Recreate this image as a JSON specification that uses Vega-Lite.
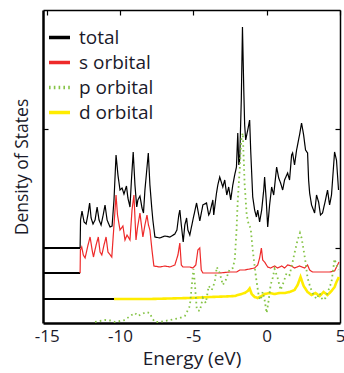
{
"$schema": "https://vega.github.io/schema/vega-lite/v6.json",
"width": 297, "height": 313,
"autosize": {"type": "none"},
"padding": {"left": 43, "top": 10, "right": 4, "bottom": 50},
"config": {
  "view": {"stroke": null},
  "font": "Open Sans",
  "axis": {"grid": false, "domainColor": "black", "tickColor": "black", "labelColor": "#1a1a2a", "titleColor": "#1a1a2a", "titleFontWeight": "normal"},
  "legend": {"orient": "none", "legendX": 4, "legendY": 15, "title": null, "symbolType": "stroke", "symbolSize": 441, "labelFontSize": 19, "labelColor": "#1a1a2a", "labelOffset": 7, "rowPadding": 2, "padding": 0}
},
"datasets": {
"base": [
 {"x0": -15.25, "x1": -12.72, "y": 7.5},
 {"x0": -15.25, "x1": -12.72, "y": 5.0},
 {"x0": -15.25, "x1": -10.41, "y": 2.4}
],
"curves": [
 {"series":"total","energy":-12.72,"dos":7.5},
 {"series":"total","energy":-12.69,"dos":10.3},
 {"series":"total","energy":-12.59,"dos":11.2},
 {"series":"total","energy":-12.45,"dos":10.1},
 {"series":"total","energy":-12.31,"dos":9.9},
 {"series":"total","energy":-12.18,"dos":10.9},
 {"series":"total","energy":-12.07,"dos":12.0},
 {"series":"total","energy":-11.97,"dos":10.5},
 {"series":"total","energy":-11.84,"dos":9.9},
 {"series":"total","energy":-11.70,"dos":10.3},
 {"series":"total","energy":-11.56,"dos":11.6},
 {"series":"total","energy":-11.43,"dos":10.3},
 {"series":"total","energy":-11.29,"dos":9.8},
 {"series":"total","energy":-11.16,"dos":10.7},
 {"series":"total","energy":-11.02,"dos":11.8},
 {"series":"total","energy":-10.88,"dos":10.3},
 {"series":"total","energy":-10.68,"dos":9.6},
 {"series":"total","energy":-10.54,"dos":9.7},
 {"series":"total","energy":-10.41,"dos":12.3},
 {"series":"total","energy":-10.27,"dos":16.8},
 {"series":"total","energy":-10.14,"dos":14.8},
 {"series":"total","energy":-10.00,"dos":13.3},
 {"series":"total","energy":-9.86,"dos":13.5},
 {"series":"total","energy":-9.73,"dos":12.9},
 {"series":"total","energy":-9.56,"dos":13.7},
 {"series":"total","energy":-9.46,"dos":12.5},
 {"series":"total","energy":-9.32,"dos":11.6},
 {"series":"total","energy":-9.22,"dos":14.3},
 {"series":"total","energy":-9.10,"dos":17.1},
 {"series":"total","energy":-8.98,"dos":13.8},
 {"series":"total","energy":-8.86,"dos":11.6},
 {"series":"total","energy":-8.78,"dos":12.3},
 {"series":"total","energy":-8.64,"dos":12.7},
 {"series":"total","energy":-8.50,"dos":11.5},
 {"series":"total","energy":-8.40,"dos":11.0},
 {"series":"total","energy":-8.30,"dos":13.3},
 {"series":"total","energy":-8.07,"dos":17.0},
 {"series":"total","energy":-7.96,"dos":13.8},
 {"series":"total","energy":-7.84,"dos":11.6},
 {"series":"total","energy":-7.76,"dos":10.3},
 {"series":"total","energy":-7.62,"dos":8.6},
 {"series":"total","energy":-7.28,"dos":8.5},
 {"series":"total","energy":-6.94,"dos":8.7},
 {"series":"total","energy":-6.60,"dos":8.6},
 {"series":"total","energy":-6.26,"dos":8.9},
 {"series":"total","energy":-6.12,"dos":9.3},
 {"series":"total","energy":-5.99,"dos":10.8},
 {"series":"total","energy":-5.92,"dos":11.3},
 {"series":"total","energy":-5.82,"dos":9.8},
 {"series":"total","energy":-5.69,"dos":8.1},
 {"series":"total","energy":-5.58,"dos":9.8},
 {"series":"total","energy":-5.46,"dos":10.5},
 {"series":"total","energy":-5.37,"dos":9.3},
 {"series":"total","energy":-5.24,"dos":8.8},
 {"series":"total","energy":-5.03,"dos":10.3},
 {"series":"total","energy":-4.78,"dos":12.0},
 {"series":"total","energy":-4.63,"dos":10.8},
 {"series":"total","energy":-4.56,"dos":10.2},
 {"series":"total","energy":-4.35,"dos":11.8},
 {"series":"total","energy":-4.10,"dos":12.0},
 {"series":"total","energy":-3.95,"dos":10.8},
 {"series":"total","energy":-3.88,"dos":11.0},
 {"series":"total","energy":-3.67,"dos":12.3},
 {"series":"total","energy":-3.61,"dos":10.8},
 {"series":"total","energy":-3.42,"dos":13.0},
 {"series":"total","energy":-3.33,"dos":13.8},
 {"series":"total","energy":-3.20,"dos":14.6},
 {"series":"total","energy":-2.99,"dos":13.6},
 {"series":"total","energy":-2.86,"dos":14.3},
 {"series":"total","energy":-2.72,"dos":12.8},
 {"series":"total","energy":-2.59,"dos":13.6},
 {"series":"total","energy":-2.45,"dos":12.3},
 {"series":"total","energy":-2.31,"dos":13.8},
 {"series":"total","energy":-2.18,"dos":14.8},
 {"series":"total","energy":-2.06,"dos":15.6},
 {"series":"total","energy":-1.97,"dos":19.0},
 {"series":"total","energy":-1.90,"dos":15.8},
 {"series":"total","energy":-1.84,"dos":16.3},
 {"series":"total","energy":-1.73,"dos":22.3},
 {"series":"total","energy":-1.65,"dos":29.6},
 {"series":"total","energy":-1.56,"dos":23.3},
 {"series":"total","energy":-1.50,"dos":19.8},
 {"series":"total","energy":-1.43,"dos":18.3},
 {"series":"total","energy":-1.29,"dos":19.3},
 {"series":"total","energy":-1.16,"dos":20.3},
 {"series":"total","energy":-1.09,"dos":17.3},
 {"series":"total","energy":-0.95,"dos":12.6},
 {"series":"total","energy":-0.82,"dos":11.3},
 {"series":"total","energy":-0.70,"dos":10.6},
 {"series":"total","energy":-0.61,"dos":11.3},
 {"series":"total","energy":-0.48,"dos":10.1},
 {"series":"total","energy":-0.34,"dos":11.3},
 {"series":"total","energy":-0.20,"dos":13.3},
 {"series":"total","energy":-0.14,"dos":14.6},
 {"series":"total","energy":-0.03,"dos":12.3},
 {"series":"total","energy":0.07,"dos":9.6},
 {"series":"total","energy":0.20,"dos":11.8},
 {"series":"total","energy":0.34,"dos":13.6},
 {"series":"total","energy":0.48,"dos":12.8},
 {"series":"total","energy":0.68,"dos":15.6},
 {"series":"total","energy":0.82,"dos":14.5},
 {"series":"total","energy":0.95,"dos":14.0},
 {"series":"total","energy":1.09,"dos":13.3},
 {"series":"total","energy":1.22,"dos":14.3},
 {"series":"total","energy":1.43,"dos":15.0},
 {"series":"total","energy":1.56,"dos":14.3},
 {"series":"total","energy":1.70,"dos":16.8},
 {"series":"total","energy":1.77,"dos":17.0},
 {"series":"total","energy":1.90,"dos":15.8},
 {"series":"total","energy":2.04,"dos":17.3},
 {"series":"total","energy":2.24,"dos":18.8},
 {"series":"total","energy":2.38,"dos":20.0},
 {"series":"total","energy":2.52,"dos":18.8},
 {"series":"total","energy":2.65,"dos":17.3},
 {"series":"total","energy":2.79,"dos":17.0},
 {"series":"total","energy":2.86,"dos":14.3},
 {"series":"total","energy":2.93,"dos":13.0},
 {"series":"total","energy":3.06,"dos":11.8},
 {"series":"total","energy":3.27,"dos":11.0},
 {"series":"total","energy":3.40,"dos":12.8},
 {"series":"total","energy":3.54,"dos":12.1},
 {"series":"total","energy":3.67,"dos":10.8},
 {"series":"total","energy":3.81,"dos":11.0},
 {"series":"total","energy":4.01,"dos":12.3},
 {"series":"total","energy":4.15,"dos":13.3},
 {"series":"total","energy":4.29,"dos":11.8},
 {"series":"total","energy":4.42,"dos":12.8},
 {"series":"total","energy":4.63,"dos":17.1},
 {"series":"total","energy":4.76,"dos":16.3},
 {"series":"total","energy":4.90,"dos":13.3},
 {"series":"s orbital","energy":-12.72,"dos":5.0},
 {"series":"s orbital","energy":-12.70,"dos":7.3},
 {"series":"s orbital","energy":-12.61,"dos":7.6},
 {"series":"s orbital","energy":-12.50,"dos":6.8},
 {"series":"s orbital","energy":-12.38,"dos":6.5},
 {"series":"s orbital","energy":-12.18,"dos":7.8},
 {"series":"s orbital","energy":-12.04,"dos":8.6},
 {"series":"s orbital","energy":-11.90,"dos":7.3},
 {"series":"s orbital","energy":-11.81,"dos":6.6},
 {"series":"s orbital","energy":-11.63,"dos":7.8},
 {"series":"s orbital","energy":-11.48,"dos":8.6},
 {"series":"s orbital","energy":-11.36,"dos":7.1},
 {"series":"s orbital","energy":-11.24,"dos":6.8},
 {"series":"s orbital","energy":-11.09,"dos":7.8},
 {"series":"s orbital","energy":-10.95,"dos":8.6},
 {"series":"s orbital","energy":-10.82,"dos":7.1},
 {"series":"s orbital","energy":-10.56,"dos":6.6},
 {"series":"s orbital","energy":-10.48,"dos":8.3},
 {"series":"s orbital","energy":-10.27,"dos":12.8},
 {"series":"s orbital","energy":-10.17,"dos":10.8},
 {"series":"s orbital","energy":-10.00,"dos":9.3},
 {"series":"s orbital","energy":-9.80,"dos":9.7},
 {"series":"s orbital","energy":-9.66,"dos":8.3},
 {"series":"s orbital","energy":-9.52,"dos":8.8},
 {"series":"s orbital","energy":-9.32,"dos":8.3},
 {"series":"s orbital","energy":-9.18,"dos":11.3},
 {"series":"s orbital","energy":-9.05,"dos":12.8},
 {"series":"s orbital","energy":-8.91,"dos":8.3},
 {"series":"s orbital","energy":-8.81,"dos":9.5},
 {"series":"s orbital","energy":-8.64,"dos":11.0},
 {"series":"s orbital","energy":-8.44,"dos":8.6},
 {"series":"s orbital","energy":-8.30,"dos":9.8},
 {"series":"s orbital","energy":-8.16,"dos":10.8},
 {"series":"s orbital","energy":-8.06,"dos":9.8},
 {"series":"s orbital","energy":-7.96,"dos":9.3},
 {"series":"s orbital","energy":-7.82,"dos":7.3},
 {"series":"s orbital","energy":-7.69,"dos":5.7},
 {"series":"s orbital","energy":-7.28,"dos":5.6},
 {"series":"s orbital","energy":-6.94,"dos":5.7},
 {"series":"s orbital","energy":-6.60,"dos":5.6},
 {"series":"s orbital","energy":-6.26,"dos":5.8},
 {"series":"s orbital","energy":-6.05,"dos":6.8},
 {"series":"s orbital","energy":-5.92,"dos":8.0},
 {"series":"s orbital","energy":-5.82,"dos":5.8},
 {"series":"s orbital","energy":-5.71,"dos":5.6},
 {"series":"s orbital","energy":-5.24,"dos":5.6},
 {"series":"s orbital","energy":-5.03,"dos":5.5},
 {"series":"s orbital","energy":-4.83,"dos":5.8},
 {"series":"s orbital","energy":-4.69,"dos":7.3},
 {"series":"s orbital","energy":-4.56,"dos":7.5},
 {"series":"s orbital","energy":-4.46,"dos":5.3},
 {"series":"s orbital","energy":-4.35,"dos":5.0},
 {"series":"s orbital","energy":-3.88,"dos":5.0},
 {"series":"s orbital","energy":-3.20,"dos":5.0},
 {"series":"s orbital","energy":-2.52,"dos":5.1},
 {"series":"s orbital","energy":-2.04,"dos":5.1},
 {"series":"s orbital","energy":-1.84,"dos":5.3},
 {"series":"s orbital","energy":-1.50,"dos":5.3},
 {"series":"s orbital","energy":-1.16,"dos":5.4},
 {"series":"s orbital","energy":-0.82,"dos":5.5},
 {"series":"s orbital","energy":-0.61,"dos":5.8},
 {"series":"s orbital","energy":-0.48,"dos":6.5},
 {"series":"s orbital","energy":-0.36,"dos":7.5},
 {"series":"s orbital","energy":-0.27,"dos":6.3},
 {"series":"s orbital","energy":-0.14,"dos":6.1},
 {"series":"s orbital","energy":0.07,"dos":5.6},
 {"series":"s orbital","energy":0.27,"dos":5.5},
 {"series":"s orbital","energy":0.54,"dos":5.7},
 {"series":"s orbital","energy":0.75,"dos":5.5},
 {"series":"s orbital","energy":1.02,"dos":5.7},
 {"series":"s orbital","energy":1.22,"dos":5.5},
 {"series":"s orbital","energy":1.43,"dos":5.8},
 {"series":"s orbital","energy":1.70,"dos":5.7},
 {"series":"s orbital","energy":1.90,"dos":5.5},
 {"series":"s orbital","energy":2.24,"dos":5.7},
 {"series":"s orbital","energy":2.59,"dos":5.5},
 {"series":"s orbital","energy":2.79,"dos":5.8},
 {"series":"s orbital","energy":2.93,"dos":5.3},
 {"series":"s orbital","energy":3.13,"dos":5.1},
 {"series":"s orbital","energy":3.61,"dos":5.1},
 {"series":"s orbital","energy":4.29,"dos":5.1},
 {"series":"s orbital","energy":4.63,"dos":5.2},
 {"series":"s orbital","energy":4.83,"dos":5.8},
 {"series":"s orbital","energy":4.93,"dos":6.1},
 {"series":"d orbital","energy":-10.41,"dos":2.4},
 {"series":"d orbital","energy":-9.32,"dos":2.4},
 {"series":"d orbital","energy":-7.96,"dos":2.4},
 {"series":"d orbital","energy":-6.60,"dos":2.45},
 {"series":"d orbital","energy":-5.24,"dos":2.5},
 {"series":"d orbital","energy":-3.88,"dos":2.6},
 {"series":"d orbital","energy":-2.86,"dos":2.65},
 {"series":"d orbital","energy":-2.18,"dos":2.7},
 {"series":"d orbital","energy":-1.84,"dos":2.85},
 {"series":"d orbital","energy":-1.50,"dos":3.0},
 {"series":"d orbital","energy":-1.29,"dos":3.2},
 {"series":"d orbital","energy":-1.16,"dos":3.45},
 {"series":"d orbital","energy":-1.02,"dos":2.9},
 {"series":"d orbital","energy":-0.82,"dos":2.6},
 {"series":"d orbital","energy":-0.61,"dos":2.5},
 {"series":"d orbital","energy":-0.34,"dos":2.7},
 {"series":"d orbital","energy":-0.14,"dos":2.9},
 {"series":"d orbital","energy":0.20,"dos":3.0},
 {"series":"d orbital","energy":0.54,"dos":2.9},
 {"series":"d orbital","energy":0.88,"dos":3.0},
 {"series":"d orbital","energy":1.22,"dos":3.0},
 {"series":"d orbital","energy":1.56,"dos":3.1},
 {"series":"d orbital","energy":1.90,"dos":3.3},
 {"series":"d orbital","energy":2.11,"dos":3.8},
 {"series":"d orbital","energy":2.31,"dos":4.6},
 {"series":"d orbital","energy":2.52,"dos":3.7},
 {"series":"d orbital","energy":2.79,"dos":3.1},
 {"series":"d orbital","energy":3.06,"dos":2.8},
 {"series":"d orbital","energy":3.33,"dos":3.0},
 {"series":"d orbital","energy":3.61,"dos":2.7},
 {"series":"d orbital","energy":3.88,"dos":3.1},
 {"series":"d orbital","energy":4.15,"dos":2.8},
 {"series":"d orbital","energy":4.42,"dos":3.2},
 {"series":"d orbital","energy":4.63,"dos":3.6},
 {"series":"d orbital","energy":4.76,"dos":4.1},
 {"series":"d orbital","energy":4.93,"dos":4.6},
 {"series":"p orbital","energy":-11.70,"dos":0.1},
 {"series":"p orbital","energy":-11.36,"dos":0.2},
 {"series":"p orbital","energy":-11.02,"dos":0.3},
 {"series":"p orbital","energy":-10.68,"dos":0.25},
 {"series":"p orbital","energy":-10.34,"dos":0.1},
 {"series":"p orbital","energy":-10.00,"dos":0.2},
 {"series":"p orbital","energy":-9.66,"dos":0.3},
 {"series":"p orbital","energy":-9.32,"dos":0.7},
 {"series":"p orbital","energy":-8.98,"dos":1.0},
 {"series":"p orbital","energy":-8.78,"dos":0.7},
 {"series":"p orbital","energy":-8.50,"dos":0.9},
 {"series":"p orbital","energy":-8.23,"dos":1.1},
 {"series":"p orbital","energy":-7.96,"dos":1.0},
 {"series":"p orbital","energy":-7.82,"dos":0.5},
 {"series":"p orbital","energy":-7.62,"dos":0.1},
 {"series":"p orbital","energy":-7.28,"dos":0.1},
 {"series":"p orbital","energy":-6.94,"dos":0.2},
 {"series":"p orbital","energy":-6.60,"dos":0.3},
 {"series":"p orbital","energy":-6.26,"dos":0.4},
 {"series":"p orbital","energy":-5.92,"dos":0.5},
 {"series":"p orbital","energy":-5.58,"dos":0.7},
 {"series":"p orbital","energy":-5.37,"dos":1.3},
 {"series":"p orbital","energy":-5.24,"dos":1.7},
 {"series":"p orbital","energy":-5.10,"dos":3.8},
 {"series":"p orbital","energy":-4.99,"dos":5.4},
 {"series":"p orbital","energy":-4.90,"dos":4.0},
 {"series":"p orbital","energy":-4.76,"dos":1.3},
 {"series":"p orbital","energy":-4.56,"dos":1.2},
 {"series":"p orbital","energy":-4.35,"dos":2.5},
 {"series":"p orbital","energy":-4.15,"dos":2.0},
 {"series":"p orbital","energy":-3.95,"dos":3.7},
 {"series":"p orbital","energy":-3.74,"dos":3.3},
 {"series":"p orbital","energy":-3.54,"dos":4.1},
 {"series":"p orbital","energy":-3.40,"dos":5.6},
 {"series":"p orbital","energy":-3.20,"dos":5.0},
 {"series":"p orbital","energy":-2.99,"dos":3.8},
 {"series":"p orbital","energy":-2.79,"dos":4.3},
 {"series":"p orbital","energy":-2.52,"dos":5.4},
 {"series":"p orbital","energy":-2.31,"dos":5.5},
 {"series":"p orbital","energy":-2.18,"dos":6.3},
 {"series":"p orbital","energy":-2.06,"dos":9.1},
 {"series":"p orbital","energy":-1.97,"dos":12.3},
 {"series":"p orbital","energy":-1.84,"dos":15.3},
 {"series":"p orbital","energy":-1.73,"dos":18.3},
 {"series":"p orbital","energy":-1.63,"dos":19.0},
 {"series":"p orbital","energy":-1.50,"dos":13.8},
 {"series":"p orbital","energy":-1.36,"dos":10.8},
 {"series":"p orbital","energy":-1.22,"dos":9.8},
 {"series":"p orbital","energy":-1.09,"dos":9.5},
 {"series":"p orbital","energy":-0.95,"dos":7.3},
 {"series":"p orbital","energy":-0.75,"dos":4.8},
 {"series":"p orbital","energy":-0.54,"dos":2.7},
 {"series":"p orbital","energy":-0.41,"dos":2.3},
 {"series":"p orbital","energy":-0.27,"dos":3.1},
 {"series":"p orbital","energy":-0.14,"dos":2.3},
 {"series":"p orbital","energy":0.00,"dos":1.0},
 {"series":"p orbital","energy":0.14,"dos":2.3},
 {"series":"p orbital","energy":0.27,"dos":3.8},
 {"series":"p orbital","energy":0.41,"dos":4.5},
 {"series":"p orbital","energy":0.54,"dos":5.4},
 {"series":"p orbital","energy":0.75,"dos":4.5},
 {"series":"p orbital","energy":0.95,"dos":3.3},
 {"series":"p orbital","energy":1.16,"dos":4.1},
 {"series":"p orbital","energy":1.36,"dos":5.0},
 {"series":"p orbital","energy":1.56,"dos":4.8},
 {"series":"p orbital","energy":1.77,"dos":6.1},
 {"series":"p orbital","energy":1.90,"dos":7.0},
 {"series":"p orbital","energy":2.11,"dos":8.3},
 {"series":"p orbital","energy":2.27,"dos":9.0},
 {"series":"p orbital","energy":2.38,"dos":8.5},
 {"series":"p orbital","energy":2.52,"dos":7.3},
 {"series":"p orbital","energy":2.65,"dos":6.1},
 {"series":"p orbital","energy":2.79,"dos":4.5},
 {"series":"p orbital","energy":2.99,"dos":3.5},
 {"series":"p orbital","energy":3.20,"dos":2.8},
 {"series":"p orbital","energy":3.40,"dos":2.4},
 {"series":"p orbital","energy":3.61,"dos":3.0},
 {"series":"p orbital","energy":3.81,"dos":2.3},
 {"series":"p orbital","energy":4.01,"dos":2.5},
 {"series":"p orbital","energy":4.22,"dos":3.3},
 {"series":"p orbital","energy":4.42,"dos":4.1},
 {"series":"p orbital","energy":4.63,"dos":6.4},
 {"series":"p orbital","energy":4.76,"dos":5.8},
 {"series":"p orbital","energy":4.90,"dos":5.3}
]
},
"resolve": {"axis": {"x": "independent", "y": "independent"}},
"layer": [
 {
  "data": {"name": "base"},
  "mark": {"type": "rule", "color": "black", "strokeWidth": 2},
  "encoding": {
   "x": {"field": "x0", "type": "quantitative", "scale": {"domain": [-15.25, 5], "nice": false, "zero": false},
         "axis": {"orient": "bottom", "title": "Energy (eV)", "values": [-15, -10, -5, 0, 5], "ticks": false, "labelExpr": "'' + datum.value", "labelFontSize": 17, "labelPadding": 5, "titleFontSize": 19, "titlePadding": 5, "domainWidth": 2.5, "labelFlush": false}},
   "x2": {"field": "x1"},
   "y": {"field": "y", "type": "quantitative", "scale": {"domain": [0, 31.3], "nice": false, "zero": false},
         "axis": {"orient": "left", "title": "Density of States", "labels": false, "values": [7.5, 19.4], "tickSize": -5, "tickWidth": 1.2, "titleFontSize": 17.5, "titlePadding": 11, "domainWidth": 2.5}}
  }
 },
 {
  "data": {"name": "base"},
  "mark": {"type": "rule", "opacity": 0},
  "encoding": {
   "x": {"field": "x0", "type": "quantitative", "axis": {"orient": "top", "title": null, "labels": false, "values": [-15, -10, -5, 0, 5], "tickSize": -5, "tickWidth": 1.2, "domainWidth": 1.5}},
   "x2": {"field": "x1"},
   "y": {"field": "y", "type": "quantitative", "axis": {"orient": "right", "title": null, "labels": false, "values": [7.5, 19.4], "tickSize": -5, "tickWidth": 1.2, "domainWidth": 1.5}}
  }
 },
 {
  "data": {"name": "curves"},
  "transform": [{"filter": "datum.series == 'total'"}],
  "mark": {"type": "line", "strokeWidth": 1.2, "clip": true},
  "encoding": {
   "x": {"field": "energy", "type": "quantitative", "axis": null},
   "y": {"field": "dos", "type": "quantitative", "axis": null},
   "color": {"field": "series", "type": "nominal", "scale": {"domain": ["total", "s orbital", "p orbital", "d orbital"], "range": ["#000000", "#ee2a2a", "#86c447", "#ffec00"]}, "legend": {"symbolStrokeWidth": 3.5}},
   "strokeDash": {"field": "series", "type": "nominal", "scale": {"domain": ["total", "s orbital", "p orbital", "d orbital"], "range": [[1, 0], [1, 0], [1.6, 3.2], [1, 0]]}, "legend": {"symbolStrokeWidth": 3.5}}
  }
 },
 {
  "data": {"name": "curves"},
  "transform": [{"filter": "datum.series == 's orbital'"}],
  "mark": {"type": "line", "strokeWidth": 1.2, "clip": true},
  "encoding": {
   "x": {"field": "energy", "type": "quantitative", "axis": null},
   "y": {"field": "dos", "type": "quantitative", "axis": null},
   "color": {"field": "series", "type": "nominal"},
   "strokeDash": {"field": "series", "type": "nominal"}
  }
 },
 {
  "data": {"name": "curves"},
  "transform": [{"filter": "datum.series == 'd orbital'"}],
  "mark": {"type": "line", "strokeWidth": 2.6, "clip": true},
  "encoding": {
   "x": {"field": "energy", "type": "quantitative", "axis": null},
   "y": {"field": "dos", "type": "quantitative", "axis": null},
   "color": {"field": "series", "type": "nominal"},
   "strokeDash": {"field": "series", "type": "nominal"}
  }
 },
 {
  "data": {"name": "curves"},
  "transform": [{"filter": "datum.series == 'p orbital'"}],
  "mark": {"type": "line", "strokeWidth": 1.8, "clip": true},
  "encoding": {
   "x": {"field": "energy", "type": "quantitative", "axis": null},
   "y": {"field": "dos", "type": "quantitative", "axis": null},
   "color": {"field": "series", "type": "nominal"},
   "strokeDash": {"field": "series", "type": "nominal"}
  }
 }
]
}
